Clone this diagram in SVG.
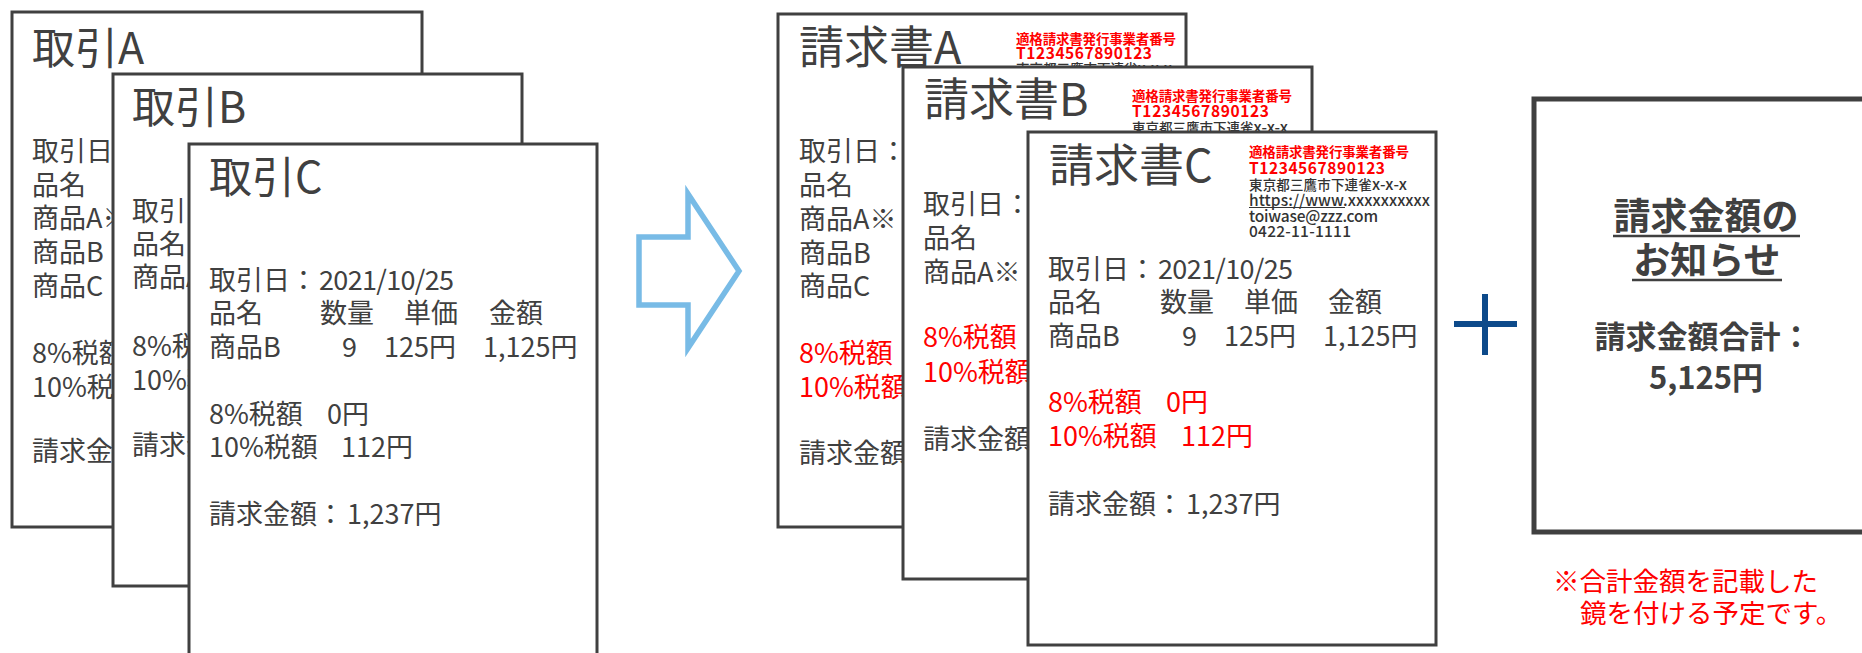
<svg xmlns="http://www.w3.org/2000/svg" width="1862" height="653" viewBox="0 0 1862 653">
<style>
text{font-family:'Noto Sans CJK JP','Noto Sans',sans-serif;fill:#404040}
.box{fill:#fff;stroke:#404040;stroke-width:3}
.ti{font-size:43px}
.ti2{font-size:45px}
.b{font-size:27px}
.r{fill:#ff0000}
.h{font-size:13.5px;font-weight:500;fill:#333}
.hb{font-size:13.5px;font-weight:700;fill:#ff0000}
.hl{font-size:15.5px}
.hd{font-size:15.5px;font-weight:500;fill:#333}
.ht{font-size:15.5px;font-weight:700;fill:#ff0000}
.bold{font-weight:700}
</style>
<rect width="1862" height="653" fill="#fff"/>

<g id="torihiki-a">
<rect class="box" x="12" y="12" width="410" height="515"/>
<text class="ti" x="32" y="64">取引A</text>
<text class="b" x="32" y="161">取引日：</text>
<text class="b" x="32" y="195">品名</text>
<text class="b" x="32" y="228">商品A※</text>
<text class="b" x="32" y="262">商品B</text>
<text class="b" x="32" y="296">商品C</text>
<text class="b" x="32" y="363">8%税額</text>
<text class="b" x="32" y="397">10%税額</text>
<text class="b" x="32" y="461">請求金額</text>
</g>

<g id="torihiki-b">
<rect class="box" x="113" y="74" width="409" height="512"/>
<text class="ti" x="132" y="123">取引B</text>
<text class="b" x="132" y="221">取引日：</text>
<text class="b" x="132" y="254">品名</text>
<text class="b" x="132" y="287">商品A※</text>
<text class="b" x="132" y="356">8%税額</text>
<text class="b" x="132" y="390">10%税額</text>
<text class="b" x="132" y="455">請求金額</text>
</g>

<g id="torihiki-c">
<rect class="box" x="189" y="144" width="408" height="530"/>
<text class="ti" x="209" y="193">取引C</text>
<text class="b" x="209" y="290">取引日：</text>
<text class="b" x="319" y="290" textLength="135">2021/10/25</text>
<text class="b" x="209" y="323">品名</text>
<text class="b" x="320" y="323">数量</text>
<text class="b" x="404" y="323">単価</text>
<text class="b" x="489" y="323">金額</text>
<text class="b" x="209" y="357">商品B</text>
<text class="b" x="342" y="357">9</text>
<text class="b" x="384" y="357">125円</text>
<text class="b" x="483" y="357">1,125円</text>
<text class="b" x="209" y="424">8%税額</text>
<text class="b" x="327" y="424">0円</text>
<text class="b" x="209" y="457">10%税額</text>
<text class="b" x="341" y="457">112円</text>
<text class="b" x="209" y="524">請求金額：</text>
<text class="b" x="347" y="524">1,237円</text>
</g>

<g id="connectors">
<polygon points="639,237 688,237 688,194 739,271 688,348 688,305 639,305" fill="#fff" stroke="#78bbe6" stroke-width="5.5" stroke-linejoin="miter"/>
<g id="plus" stroke="#0d4a8a" stroke-width="6">
<line x1="1485" y1="294" x2="1485" y2="355"/>
<line x1="1454" y1="324" x2="1517" y2="324"/>
</g>
</g>

<g id="seikyusho-a">
<rect class="box" x="778" y="14" width="408" height="513"/>
<text class="ti2" x="799" y="64">請求書A</text>
<text class="hb" x="1016" y="44" textLength="160">適格請求書発行事業者番号</text>
<text class="ht" x="1016" y="59" textLength="136">T1234567890123</text>
<text class="h" x="1016" y="74">東京都三鷹市下連雀<tspan class="hl">x-x-x</tspan></text>
<text class="b" x="799" y="161">取引日：</text>
<text class="b" x="799" y="195">品名</text>
<text class="b" x="799" y="229">商品A※</text>
<text class="b" x="799" y="263">商品B</text>
<text class="b" x="799" y="296">商品C</text>
<text class="b r" x="799" y="363">8%税額</text>
<text class="b r" x="799" y="397">10%税額</text>
<text class="b" x="799" y="463">請求金額</text>
</g>

<g id="seikyusho-b">
<rect class="box" x="903" y="67" width="409" height="512"/>
<text class="ti2" x="924" y="116">請求書B</text>
<text class="hb" x="1132" y="101" textLength="160">適格請求書発行事業者番号</text>
<text class="ht" x="1132" y="116.5" textLength="137">T1234567890123</text>
<text class="h" x="1132" y="133">東京都三鷹市下連雀<tspan class="hl">x-x-x</tspan></text>
<text class="b" x="923" y="214">取引日：</text>
<text class="b" x="923" y="248">品名</text>
<text class="b" x="923" y="282">商品A※</text>
<text class="b r" x="923" y="347">8%税額</text>
<text class="b r" x="923" y="382">10%税額</text>
<text class="b" x="923" y="449">請求金額</text>
</g>

<g id="seikyusho-c">
<rect class="box" x="1028" y="132" width="408" height="513"/>
<text class="ti2" x="1049" y="182">請求書C</text>
<text class="hb" x="1249" y="157" textLength="160">適格請求書発行事業者番号</text>
<text class="ht" x="1249" y="174" textLength="136">T1234567890123</text>
<text class="h" x="1249" y="190" textLength="158">東京都三鷹市下連雀<tspan class="hl">x-x-x</tspan></text>
<text class="hd" x="1249" y="205.5" textLength="181">https://www.xxxxxxxxxx</text>
<line x1="1249" y1="207.5" x2="1345" y2="207.5" stroke="#333" stroke-width="1"/>
<text class="hd" x="1249" y="221.5" textLength="129">toiwase@zzz.com</text>
<text class="hd" x="1249" y="237" textLength="102">0422-11-1111</text>
<text class="b" x="1048" y="279">取引日：</text>
<text class="b" x="1158" y="279" textLength="135">2021/10/25</text>
<text class="b" x="1048" y="312">品名</text>
<text class="b" x="1160" y="312">数量</text>
<text class="b" x="1244" y="312">単価</text>
<text class="b" x="1328" y="312">金額</text>
<text class="b" x="1048" y="346">商品B</text>
<text class="b" x="1182" y="346">9</text>
<text class="b" x="1224" y="346">125円</text>
<text class="b" x="1323" y="346">1,125円</text>
<text class="b r" x="1048" y="412">8%税額</text>
<text class="b r" x="1166" y="412">0円</text>
<text class="b r" x="1048" y="446">10%税額</text>
<text class="b r" x="1181" y="446">112円</text>
<text class="b" x="1048" y="514">請求金額：</text>
<text class="b" x="1186" y="514">1,237円</text>
</g>

<g id="oshirase">
<rect x="1534" y="99" width="340" height="433" fill="#fff" stroke="#404040" stroke-width="5"/>
<text class="bold" x="1706" y="230" font-size="37" text-anchor="middle">請求金額の</text>
<line x1="1613" y1="236" x2="1800" y2="236" stroke="#404040" stroke-width="2.5"/>
<text class="bold" x="1707" y="274" font-size="37" text-anchor="middle">お知らせ</text>
<line x1="1632" y1="280" x2="1782" y2="280" stroke="#404040" stroke-width="2.5"/>
<text class="bold" x="1703" y="348" font-size="31" text-anchor="middle">請求金額合計：</text>
<text class="bold" x="1706" y="389" font-size="31" text-anchor="middle">5,125円</text>
</g>

<g id="note">
<text x="1553" y="591" font-size="26.5" class="r">※合計金額を記載した</text>
<text x="1580" y="623" font-size="26.5" class="r">鏡を付ける予定です。</text>
</g>
</svg>
